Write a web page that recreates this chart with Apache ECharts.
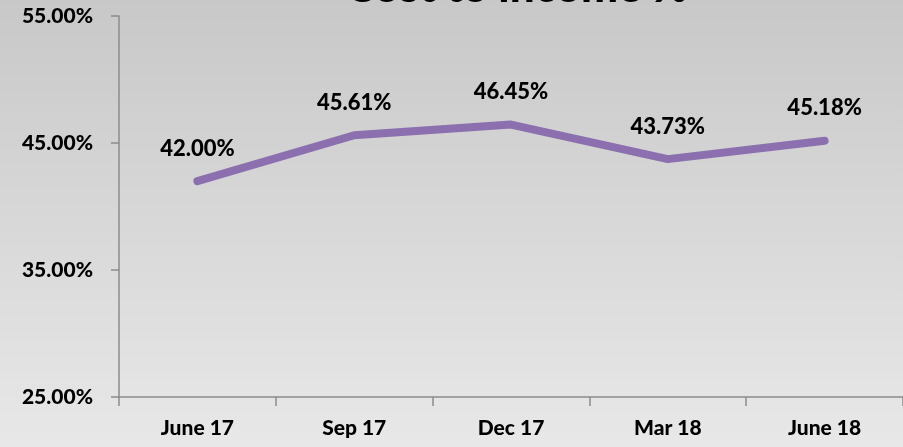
<!DOCTYPE html>
<html>
<head>
<meta charset="utf-8">
<script src="https://cdn.jsdelivr.net/npm/echarts@6/dist/echarts.min.js"></script>
<style>
html,body{margin:0;padding:0;}
#chart{width:903px;height:447px;}
</style>
</head>
<body>
<div id="chart"></div>
<script>
var titleText = 'Cost to income %';
var categories = ['June 17', 'Sep 17', 'Dec 17', 'Mar 18', 'June 18'];
var costToIncome = [42.00, 45.61, 46.45, 43.73, 45.18];
var yTicks = [25, 35, 45, 55];

var FONT = 'Lato, "Open Sans", sans-serif';
var chart = echarts.init(document.getElementById('chart'));
chart.setOption({
  animation: false,
  backgroundColor: {
    type: 'linear', x: 0, y: 0, x2: 0, y2: 1,
    colorStops: [{offset: 0, color: '#c8c8c8'}, {offset: 1, color: '#e8e8e8'}]
  },
  title: {
    text: titleText,
    left: 512,
    textAlign: 'center',
    top: -39,
    textStyle: {fontFamily: FONT, fontSize: 44, fontWeight: 900, color: '#000'}
  },
  grid: {left: 119, right: 0, top: 16, bottom: 50},
  xAxis: {
    type: 'category',
    data: categories,
    boundaryGap: true,
    axisLine: {lineStyle: {color: '#8c8c8c', width: 1.5}},
    axisTick: {show: true, length: 9, lineStyle: {color: '#8c8c8c', width: 1.5}},
    axisLabel: {margin: 21, fontFamily: FONT, fontSize: 21, fontWeight: 900, color: '#000'}
  },
  yAxis: {
    type: 'value',
    min: yTicks[0],
    max: yTicks[yTicks.length - 1],
    axisLine: {show: true, lineStyle: {color: '#8c8c8c', width: 1.5}},
    axisTick: {show: true, length: 8, customValues: yTicks, lineStyle: {color: '#8c8c8c', width: 1.5}},
    splitLine: {show: false},
    axisLabel: {
      customValues: yTicks,
      margin: 26,
      fontFamily: FONT, fontSize: 21, fontWeight: 900, color: '#000',
      formatter: function (v) { return v.toFixed(2) + '%'; }
    }
  },
  series: [{
    type: 'line',
    data: costToIncome,
    symbol: 'circle',
    symbolSize: 1,
    showSymbol: true,
    itemStyle: {color: '#8b6fae'},
    lineStyle: {color: '#8b6fae', width: 8, cap: 'round', join: 'round'},
    label: {
      show: true,
      position: 'top',
      distance: 21,
      fontFamily: FONT, fontSize: 22, fontWeight: 900, color: '#000',
      formatter: function (p) { return p.value.toFixed(2) + '%'; }
    }
  }]
});
</script>
</body>
</html>
